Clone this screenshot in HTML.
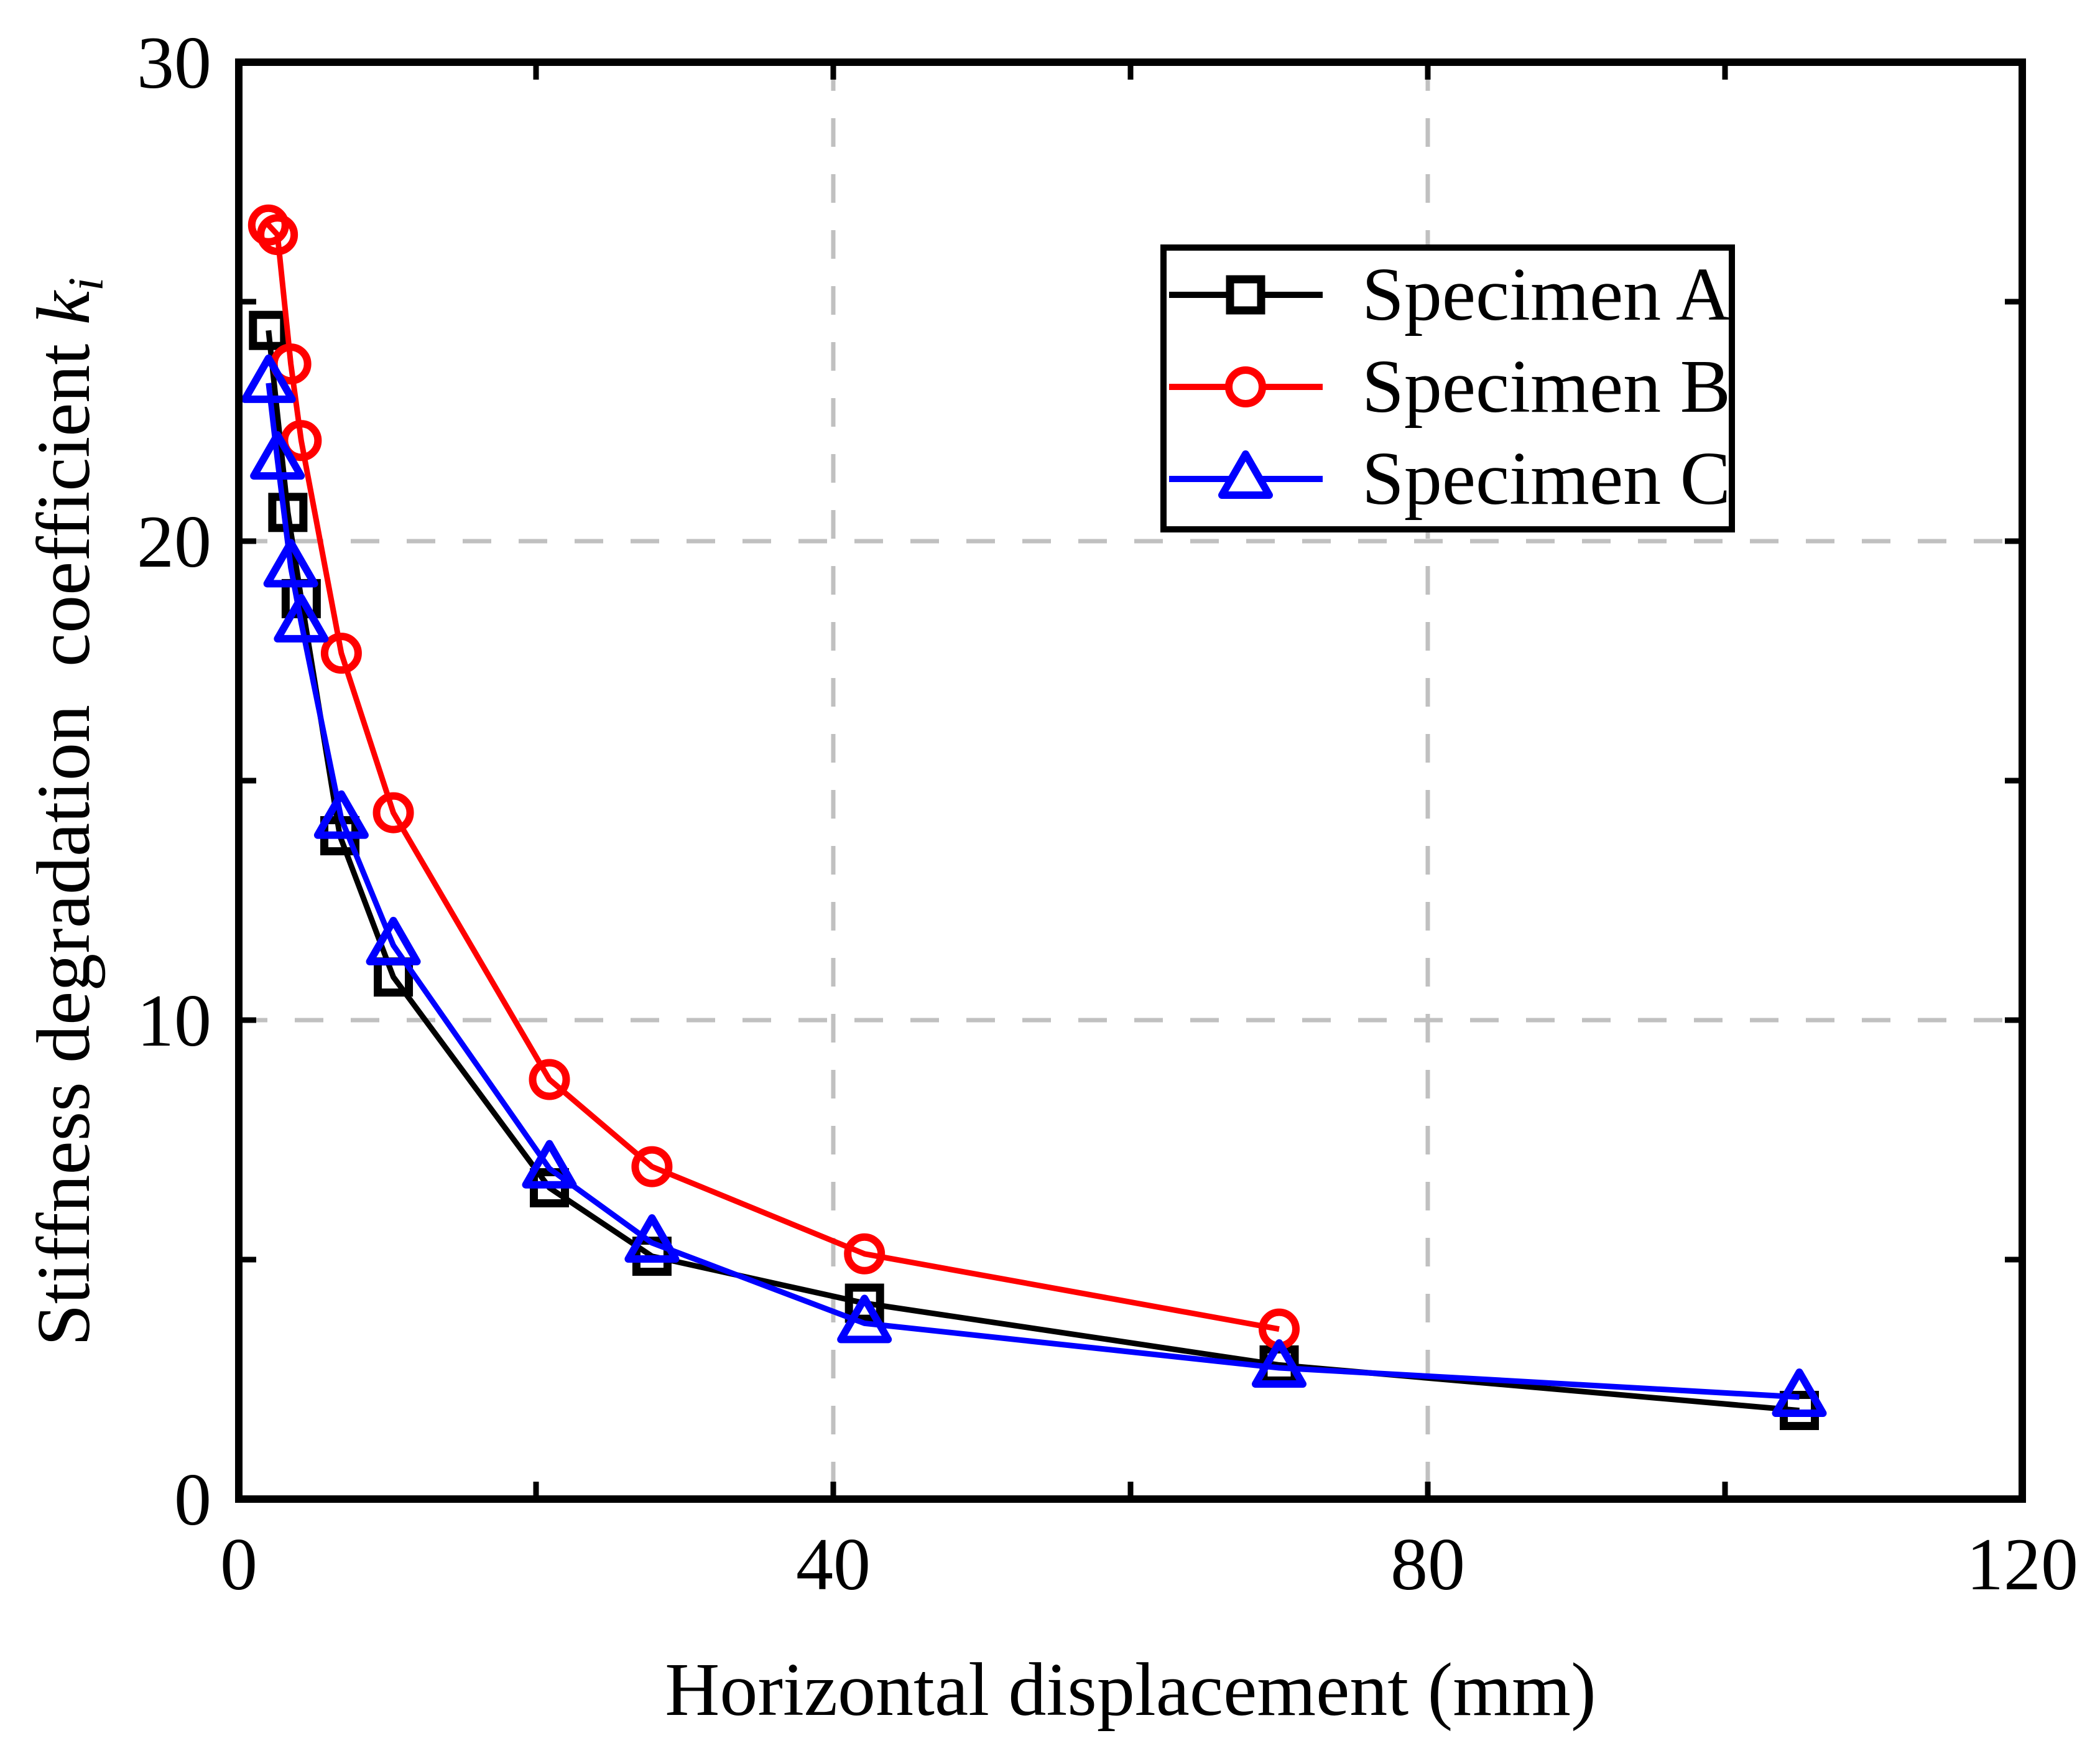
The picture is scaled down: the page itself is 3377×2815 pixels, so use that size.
<!DOCTYPE html>
<html><head><meta charset="utf-8"><style>
html,body{margin:0;padding:0;background:#fff;}
svg{display:block;font-family:"Liberation Serif",serif;}
</style></head><body>
<svg id="chart" width="3377" height="2815" viewBox="0 0 3377 2815" xmlns="http://www.w3.org/2000/svg">
<g id="grid"></g>
<g id="series"></g>
<g id="axes"></g>
<text x="1818" y="2757" font-size="122" text-anchor="middle">Horizontal displacement (mm)</text>
<text transform="translate(143,1305) rotate(-90)" font-size="122" text-anchor="middle" xml:space="preserve">Stiffness degradation  coefficient <tspan font-style="italic">k</tspan><tspan font-style="italic" font-size="80" dy="22">i</tspan></text>
<g id="legend">
<rect x="1871" y="398" width="914" height="453" fill="#fff" stroke="#000" stroke-width="10"/>
</g>
</svg>
<script>
const xTicks=[0,40,80,120];
const yTicks=[0,10,20,30];
const xMinor=[20,60,100];
const yMinor=[5,15,25];
const seriesNames=["Specimen A","Specimen B","Specimen C"];
const dispA=[2.0,3.3,4.2,6.8,10.4,20.9,27.8,42.1,70,105];
const kA=[24.4,20.6,18.8,13.85,10.9,6.5,5.07,4.09,2.8,1.85];
const dispB=[2.0,2.6,3.5,4.2,6.9,10.4,20.9,27.8,42.1,70];
const kB=[26.6,26.4,23.7,22.1,17.66,14.33,8.76,6.94,5.12,3.55];
const dispC=[2.0,2.6,3.5,4.2,6.9,10.4,20.9,27.8,42.1,70,105];
const kC=[23.3,21.7,19.45,18.3,14.2,11.56,6.9,5.35,3.67,2.74,2.13];

const NS="http://www.w3.org/2000/svg";
const L=384,R=3252,T=100,B=2410;
const X=v=>L+(v-0)/(120-0)*(R-L);
const Y=v=>B-(v-0)/(30-0)*(B-T);
function mk(tag,attrs,parent){const e=document.createElementNS(NS,tag);for(const k in attrs)e.setAttribute(k,attrs[k]);parent.appendChild(e);return e;}
const grid=document.getElementById('grid'),axes=document.getElementById('axes'),ser=document.getElementById('series'),leg=document.getElementById('legend');
xTicks.slice(1,-1).forEach(v=>{const g=mk('line',{x1:X(v),x2:X(v),y1:T,y2:B,stroke:'#c0c0c0','stroke-width':7,'stroke-dasharray':'46 44'},grid);

});
yTicks.slice(1,-1).forEach(v=>{const g=mk('line',{x1:L,x2:R,y1:Y(v),y2:Y(v),stroke:'#c0c0c0','stroke-width':7,'stroke-dasharray':'46 44'},grid);

});
const frame=mk('rect',{x:L,y:T,width:R-L,height:B-T,fill:'none',stroke:'#000','stroke-width':12},axes);


xTicks.concat(xMinor).forEach(v=>{[[B,B-28],[T,T+28]].forEach(p=>{const t=mk('line',{x1:X(v),x2:X(v),y1:p[0],y2:p[1],stroke:'#000','stroke-width':9},axes);

});});
yTicks.concat(yMinor).forEach(v=>{[[L,L+28],[R,R-28]].forEach(p=>{const t=mk('line',{x1:p[0],x2:p[1],y1:Y(v),y2:Y(v),stroke:'#000','stroke-width':9},axes);

});});
xTicks.forEach(v=>{const t=mk('text',{x:X(v),y:2555,'font-size':120,'text-anchor':'middle'},axes);t.textContent=v;

});
yTicks.forEach(v=>{const t=mk('text',{x:340,y:Y(v)+41,'font-size':120,'text-anchor':'end'},axes);t.textContent=v;

});
function marker(type,cx,cy,color,parent){
 let e;
 if(type==='square')e=mk('rect',{x:cx-25,y:cy-25,width:50,height:50,fill:'none',stroke:color,'stroke-width':13},parent);
 else if(type==='circle')e=mk('circle',{cx:cx,cy:cy,r:27,fill:'none',stroke:color,'stroke-width':12},parent);
 else e=mk('polygon',{points:`${cx},${cy-40} ${cx-38},${cy+26} ${cx+38},${cy+26}`,fill:'none',stroke:color,'stroke-width':12,'stroke-linejoin':'round'},parent);
 return e;
}
const defs=[[dispA,kA,'#000','square','series-a'],[dispB,kB,'#ff0000','circle','series-b'],[dispC,kC,'#0000ff','triangle','series-c']];
defs.forEach((d,i)=>{
 const g=mk('g',{},ser);
 
 
 const pts=d[0].map((x,j)=>X(x)+','+Y(d[1][j])).join(' ');
 const pl=mk('polyline',{points:pts,fill:'none',stroke:d[2],'stroke-width':9,'stroke-linejoin':'round'},g);
 
 
 d[0].forEach((x,j)=>{const m=marker(d[3],X(x),Y(d[1][j]),d[2],g);
 
 });
 const ry=[474,622,770][i];
 const ll=mk('line',{x1:1880,x2:2127,y1:ry,y2:ry,stroke:d[2],'stroke-width':10},leg);
 
 
 const lm=marker(d[3],2003,ry,d[2],leg);
 lm.setAttribute('fill','#fff');
 
 
 const lt=mk('text',{x:2190,y:ry+40,'font-size':122},leg);lt.textContent=seriesNames[i];
 
 
});
</script>
</body></html>
